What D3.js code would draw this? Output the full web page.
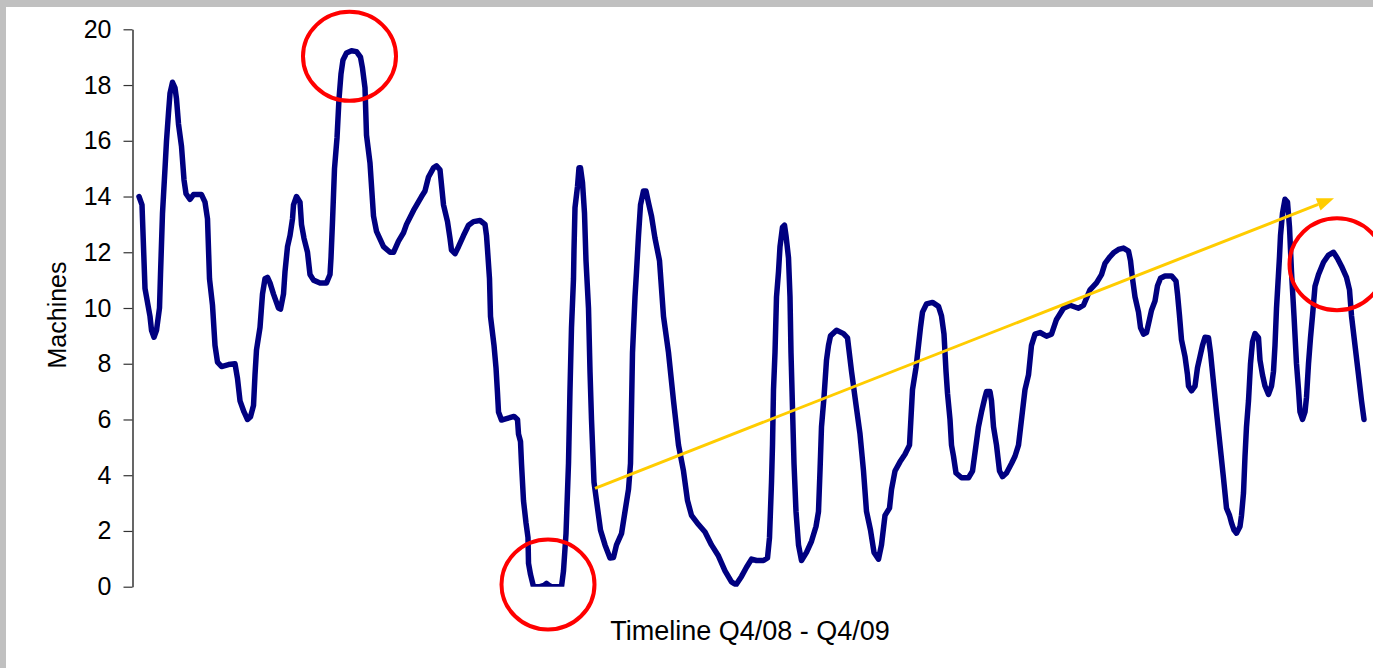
<!DOCTYPE html>
<html>
<head>
<meta charset="utf-8">
<script src="https://cdn.jsdelivr.net/npm/d3@7"></script>
<style>
  html, body { margin: 0; padding: 0; background: #ffffff; }
  svg { display: block; }
  text { font-family: "Liberation Sans", Arial, sans-serif; fill: #000; }
</style>
</head>
<body>
<svg id="chart" width="1373" height="668"></svg>
<script>
// Machines in use over the timeline (t = position along the timeline, v = machines)
const timeline = [
  0, 0.6, 1.2, 2.2, 2.5, 3.0, 3.5, 4.1, 4.3, 4.7, 5.2, 5.5, 5.9, 6.2, 6.7, 7.2, 7.5, 7.9, 8.5, 9.0,
  9.4, 10.2, 10.9, 12.5, 13.2, 13.7, 14.1, 14.7, 15.2, 15.7, 16.5, 17.9, 19.2, 19.7, 20.2, 21.0, 21.7, 22.3, 22.9, 23.2,
  23.5, 24.2, 24.7, 25.2, 25.7, 26.2, 26.9, 27.9, 28.3, 28.9, 29.2, 29.7, 30.2, 30.7, 30.9, 31.5, 32.2, 32.5, 33.0, 33.7,
  34.2, 34.9, 36.2, 37.5, 38.2, 38.4, 38.7, 39.1, 39.6, 40.0, 40.4, 40.8, 41.5, 42.5, 43.5, 44.3, 44.7, 45.2, 45.5, 46.2,
  46.9, 47.5, 48.9, 50.2, 50.9, 51.9, 52.9, 53.5, 54.9, 56.5, 57.2, 57.9, 58.9, 59.5, 60.2, 60.9, 61.7, 62.2, 62.5, 63.2,
  63.9, 64.9, 65.9, 66.9, 68.2, 69.2, 69.5, 69.7, 70.1, 70.3, 71.0, 71.4, 71.7, 71.9, 72.5, 73.5, 75.0, 75.7, 75.9, 76.3,
  76.5, 76.9, 77.4, 77.8, 77.9, 78.3, 78.9, 80.2, 81.0, 81.5, 82.0, 82.5, 84.5, 84.9, 85.4, 85.9, 86.2, 86.5, 86.9, 87.0,
  87.2, 87.7, 88.0, 88.3, 88.7, 89.1, 89.4, 89.9, 90.2, 90.5, 91.0, 91.4, 91.9, 92.3, 93.2, 94.2, 94.9, 95.5, 96.5, 97.2,
  97.9, 98.3, 98.5, 98.7, 99.2, 99.5, 99.9, 100.3, 100.9, 101.4, 101.9, 102.5, 103.2, 104.1, 104.9, 105.9, 106.9, 107.9, 108.9, 109.7,
  110.5, 111.9, 113.2, 114.5, 115.9, 117.2, 118.5, 119.4, 120.5, 121.5, 122.5, 123.5, 124.9, 125.7, 126.1, 126.5, 126.7, 126.9, 127.2, 127.5,
  127.9, 128.2, 128.7, 129.1, 129.4, 129.9, 130.2, 130.4, 130.7, 131.0, 131.4, 131.9, 132.5, 133.5, 134.5, 135.4, 135.9, 136.2, 136.5, 137.0,
  137.5, 137.9, 138.3, 139.5, 140.9, 141.7, 142.5, 143.5, 144.2, 144.9, 145.5, 146.3, 147.0, 147.9, 148.5, 149.2, 150.1, 150.5, 151.2, 152.2,
  153.2, 154.1, 154.3, 154.7, 155.4, 155.9, 156.3, 156.7, 157.5, 158.7, 159.9, 160.5, 161.0, 161.4, 161.7, 162.2, 162.5, 162.9, 163.4, 164.5,
  165.9, 166.7, 167.2, 167.9, 168.5, 169.2, 169.5, 170.2, 170.5, 170.9, 171.5, 172.1, 172.7, 173.5, 174.5, 175.2, 175.9, 176.5, 177.2, 177.9,
  178.5, 179.2, 180.2, 181.5, 182.5, 183.5, 184.9, 186.2, 187.9, 188.9, 190.2, 191.5, 192.5, 193.2, 194.2, 194.9, 195.9, 196.9, 197.9, 198.3,
  198.7, 199.2, 199.9, 200.3, 200.9, 201.5, 202.1, 202.5, 203.2, 203.7, 204.3, 205.2, 206.5, 207.4, 207.7, 208.1, 208.5, 209.2, 209.7, 209.9,
  210.5, 211.2, 211.7, 212.2, 212.7, 213.2, 213.9, 214.3, 214.9, 215.5, 216.2, 216.9, 217.5, 218.1, 218.5, 219.0, 219.5, 220.2, 220.5, 220.9,
  221.2, 221.5, 221.9, 222.1, 222.3, 222.7, 223.2, 223.9, 224.2, 224.7, 225.2, 225.9, 226.5, 226.9, 227.2, 227.5, 228.1, 228.3, 228.7, 229.2,
  229.7, 230.1, 230.5, 231.0, 231.5, 231.9, 232.2, 232.7, 233.2, 233.5, 233.9, 234.3, 234.7, 235.2, 235.9, 236.9, 237.9, 238.9, 239.7, 240.5,
  241.5, 242.1, 242.5, 243.2, 243.9, 244.5, 245.0
];

const machines = [
  14.0, 13.7, 10.7, 9.7, 9.2, 8.95, 9.2, 10.0, 11.2, 13.4, 15.0, 16.0, 17.0, 17.7, 18.1, 17.9, 17.5, 16.6, 15.8, 14.6,
  14.1, 13.9, 14.07, 14.07, 13.8, 13.2, 11.05, 10.1, 8.66, 8.06, 7.9, 7.97, 8.0, 7.47, 6.67, 6.27, 6.0, 6.1, 6.5, 7.6,
  8.5, 9.3, 10.5, 11.05, 11.1, 10.9, 10.5, 10.0, 9.96, 10.5, 11.3, 12.2, 12.6, 13.2, 13.7, 14.0, 13.8, 13.0, 12.5, 12.0,
  11.2, 11.0, 10.9, 10.9, 11.2, 11.8, 13.1, 15.0, 16.1, 17.5, 18.4, 18.9, 19.15, 19.23, 19.2, 19.0, 18.6, 17.9, 16.2, 15.2,
  13.3, 12.75, 12.2, 12.0, 12.0, 12.4, 12.7, 13.0, 13.5, 14.0, 14.2, 14.7, 15.03, 15.1, 14.96, 13.7, 13.1, 12.5, 12.08, 11.95,
  12.2, 12.6, 12.97, 13.1, 13.14, 13.0, 12.6, 12.1, 11.05, 9.7, 8.66, 7.86, 6.94, 6.27, 5.98, 6.03, 6.11, 6.0, 5.48, 5.21,
  4.42, 3.09, 2.29, 1.76, 0.84, 0.44, 0.0, 0.0, 0.05, 0.12, 0.05, 0.0, 0.0, 0.57, 1.9, 4.42, 7.07, 9.3, 11.05, 12.1,
  13.6, 14.36, 15.03, 15.03, 14.5, 13.4, 11.7, 9.99, 7.73, 6.0, 3.75, 3.22, 2.56, 2.03, 1.5, 1.03, 1.05, 1.5, 1.9, 2.7,
  3.49, 4.42, 6.4, 8.4, 10.4, 11.3, 12.6, 13.7, 14.2, 14.2, 13.77, 13.3, 12.5, 11.7, 9.7, 8.4, 6.67, 5.08, 4.15, 3.09,
  2.56, 2.23, 1.96, 1.5, 1.1, 0.57, 0.17, 0.07, 0.37, 0.7, 0.99, 0.94, 0.94, 1.03, 1.76, 3.75, 5.08, 7.07, 8.4, 10.4,
  11.3, 12.2, 12.9, 12.97, 12.6, 11.8, 10.4, 8.4, 6.4, 4.42, 2.7, 1.5, 0.94, 1.23, 1.63, 2.16, 2.7, 4.15, 5.74, 6.8,
  8.13, 8.66, 9.0, 9.2, 9.08, 8.93, 7.73, 6.4, 5.48, 4.15, 2.7, 2.03, 1.23, 0.99, 1.5, 2.56, 2.82, 3.49, 4.15, 4.48,
  4.75, 5.08, 5.74, 7.07, 7.86, 8.66, 9.3, 9.85, 10.15, 10.2, 10.06, 9.72, 9.06, 7.73, 6.94, 6.0, 5.08, 4.68, 4.08, 3.91,
  3.91, 4.15, 4.81, 5.74, 6.27, 6.8, 7.0, 7.0, 6.67, 5.74, 5.08, 4.15, 3.95, 4.08, 4.42, 4.68, 5.08, 6.0, 7.07, 7.6,
  8.66, 9.06, 9.12, 8.99, 9.06, 9.59, 9.99, 10.1, 9.99, 10.1, 10.65, 10.9, 11.2, 11.6, 11.84, 11.98, 12.1, 12.15, 12.04, 11.7,
  11.05, 10.4, 9.85, 9.3, 9.06, 9.12, 9.59, 9.92, 10.25, 10.8, 11.07, 11.15, 11.15, 10.97, 10.5, 9.72, 8.86, 8.26, 7.6, 7.2,
  7.03, 7.2, 7.86, 8.26, 8.66, 8.95, 8.93, 8.4, 7.33, 6.27, 5.08, 3.89, 2.82, 2.56, 2.29, 2.03, 1.92, 2.16, 2.56, 3.36,
  4.68, 5.74, 6.67, 7.33, 8.0, 8.79, 9.08, 8.93, 8.13, 7.6, 7.2, 6.9, 7.2, 7.73, 8.66, 9.99, 11.84, 12.6, 13.4, 13.9,
  13.8, 12.9, 11.3, 9.72, 8.0, 7.07, 6.27, 6.0, 6.27, 6.8, 8.0, 8.93, 9.72, 10.78, 11.2, 11.64, 11.9, 12.0, 11.78, 11.5,
  11.1, 10.65, 9.72, 8.66, 7.6, 6.67, 6.0
];

const yTicks = [0, 2, 4, 6, 8, 10, 12, 14, 16, 18, 20];
const yTitle = "Machines";
const xTitle = "Timeline Q4/08 - Q4/09";

// Highlighted spots on the timeline (ellipse centres) and the upward trend arrow
const highlightT = [42.1, 81.8, 239.6];
const highlightV = [19.03, 0.08, 11.57];
const trendT = [91.2, 239.0];
const trendV = [3.53, 13.94];

const svg = d3.select("#chart");
const W = 1373, H = 668;

// Frame: grey band along the top and left edges
svg.append("rect").attr("x", 0).attr("y", 0).attr("width", W).attr("height", H).attr("fill", "#c0c0c0");
svg.append("rect").attr("x", 6).attr("y", 7).attr("width", W - 6).attr("height", H - 7).attr("fill", "#ffffff");

const x = d3.scaleLinear().domain([0, 245]).range([139, 1364]);
const y = d3.scaleLinear().domain([0, 20]).range([586.7, 29.3]);

// Y axis
const yAxis = d3.axisLeft(y)
  .tickValues(yTicks)
  .tickFormat(d3.format("d"))
  .tickSize(9)
  .tickSizeOuter(0)
  .tickPadding(12);

const gy = svg.append("g")
  .attr("transform", "translate(132.5,0)")
  .call(yAxis);
gy.select(".domain").attr("stroke", "#000").attr("stroke-width", 1.2);
gy.selectAll(".tick line").attr("stroke", "#333").attr("stroke-width", 1.2);
gy.selectAll(".tick text")
  .attr("font-size", 25)
  .attr("font-family", "Liberation Sans, Arial, sans-serif")
  .attr("fill", "#000");

// Axis titles
svg.append("text")
  .attr("transform", "translate(66,315) rotate(-90)")
  .attr("text-anchor", "middle")
  .attr("font-size", 25)
  .text(yTitle);

svg.append("text")
  .attr("x", 750)
  .attr("y", 640)
  .attr("text-anchor", "middle")
  .attr("font-size", 27)
  .text(xTitle);

// Series line, clipped at the zero baseline
svg.append("defs").append("clipPath").attr("id", "plotClip")
  .append("rect")
  .attr("x", 133).attr("y", 0)
  .attr("width", W - 133).attr("height", y(0));

const points = timeline.map((t, i) => [t, machines[i]]);
const line = d3.line().x(d => x(d[0])).y(d => y(d[1]));

svg.append("path")
  .datum(points)
  .attr("clip-path", "url(#plotClip)")
  .attr("fill", "none")
  .attr("stroke", "#000080")
  .attr("stroke-width", 5.5)
  .attr("stroke-linejoin", "round")
  .attr("stroke-linecap", "round")
  .attr("d", line);

// Red highlight ellipses
const radii = [[46.5, 44.5], [46.5, 45], [47.5, 46]];
svg.append("g")
  .selectAll("ellipse")
  .data(highlightT.map((t, i) => ({ t, v: highlightV[i], r: radii[i] })))
  .join("ellipse")
  .attr("cx", d => x(d.t))
  .attr("cy", d => y(d.v))
  .attr("rx", d => d.r[0])
  .attr("ry", d => d.r[1])
  .attr("fill", "none")
  .attr("stroke", "#ff0000")
  .attr("stroke-width", 4);

// Yellow trend arrow
const x0 = x(trendT[0]), y0 = y(trendV[0]);
const x1 = x(trendT[1]), y1 = y(trendV[1]);
const ang = Math.atan2(y1 - y0, x1 - x0);
const headLen = 17, headHalf = 6.5;
const bx = x1 - headLen * Math.cos(ang), by = y1 - headLen * Math.sin(ang);

svg.append("line")
  .attr("x1", x0).attr("y1", y0)
  .attr("x2", bx).attr("y2", by)
  .attr("stroke", "#ffcc00")
  .attr("stroke-width", 3);

svg.append("path")
  .attr("d", d3.line()([
    [x1, y1],
    [bx + headHalf * Math.sin(ang), by - headHalf * Math.cos(ang)],
    [bx - headHalf * Math.sin(ang), by + headHalf * Math.cos(ang)]
  ]) + "Z")
  .attr("fill", "#ffcc00");
</script>
</body>
</html>
